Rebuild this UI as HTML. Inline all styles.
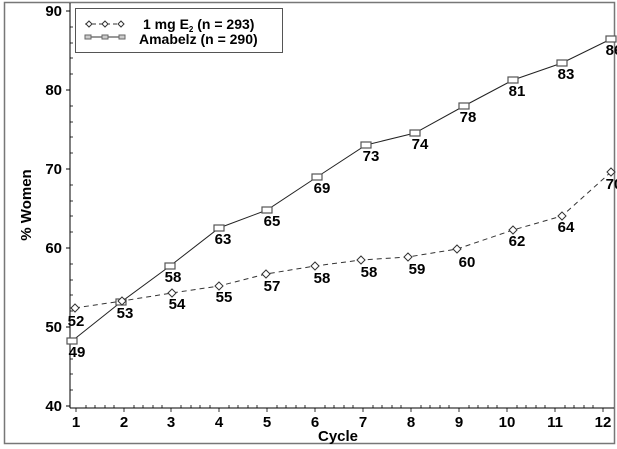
<!DOCTYPE html>
<html><head><style>
html,body{margin:0;padding:0;background:#fff;}
svg{display:block;font-family:"Liberation Sans",Arial,sans-serif;font-weight:bold;}
</style></head><body>
<svg width="617" height="449" viewBox="0 0 617 449" xmlns="http://www.w3.org/2000/svg">
<rect x="4.5" y="2.5" width="610" height="441" fill="none" stroke="#777" stroke-width="1.5"/>
<!-- axes -->
<line x1="70" y1="3" x2="70" y2="408" stroke="#000"/>
<line x1="70" y1="408" x2="614" y2="408" stroke="#000"/>
<g stroke="#000" stroke-width="1">
<line x1="66" y1="11" x2="70" y2="11"/><line x1="66" y1="90" x2="70" y2="90"/><line x1="66" y1="169" x2="70" y2="169"/><line x1="66" y1="248" x2="70" y2="248"/><line x1="66" y1="327" x2="70" y2="327"/><line x1="66" y1="406" x2="70" y2="406"/>
</g>
<g stroke="#000" stroke-width="0.8">
<line x1="70" y1="27" x2="73" y2="27"/><line x1="70" y1="43" x2="73" y2="43"/><line x1="70" y1="58" x2="73" y2="58"/><line x1="70" y1="74" x2="73" y2="74"/>
<line x1="70" y1="106" x2="73" y2="106"/><line x1="70" y1="122" x2="73" y2="122"/><line x1="70" y1="137" x2="73" y2="137"/><line x1="70" y1="153" x2="73" y2="153"/>
<line x1="70" y1="185" x2="73" y2="185"/><line x1="70" y1="201" x2="73" y2="201"/><line x1="70" y1="216" x2="73" y2="216"/><line x1="70" y1="232" x2="73" y2="232"/>
<line x1="70" y1="264" x2="73" y2="264"/><line x1="70" y1="280" x2="73" y2="280"/><line x1="70" y1="295" x2="73" y2="295"/><line x1="70" y1="311" x2="73" y2="311"/>
<line x1="70" y1="343" x2="73" y2="343"/><line x1="70" y1="359" x2="73" y2="359"/><line x1="70" y1="374" x2="73" y2="374"/><line x1="70" y1="390" x2="73" y2="390"/>
</g>
<g id="xt" stroke="#000" stroke-width="0.8"></g>
<g font-size="15" text-anchor="end">
<text x="62" y="16">90</text><text x="62" y="95">80</text><text x="62" y="174">70</text><text x="62" y="253">60</text><text x="62" y="332">50</text><text x="62" y="411">40</text>
</g>
<g font-size="15" text-anchor="middle">
<text x="76" y="427">1</text><text x="124" y="427">2</text><text x="171" y="427">3</text><text x="219" y="427">4</text><text x="267" y="427">5</text><text x="315" y="427">6</text><text x="363" y="427">7</text><text x="411" y="427">8</text><text x="459" y="427">9</text><text x="507" y="427">10</text><text x="555" y="427">11</text><text x="603" y="427">12</text>
</g>
<text x="338" y="441" font-size="15" text-anchor="middle">Cycle</text>
<text transform="translate(31,205) rotate(-90)" font-size="15" text-anchor="middle">% Women</text>
<!-- tick marks x -->
<g stroke="#000" stroke-width="0.8">
<line x1="76" y1="408" x2="76" y2="412"/><line x1="124" y1="408" x2="124" y2="412"/><line x1="171" y1="408" x2="171" y2="412"/><line x1="219" y1="408" x2="219" y2="412"/><line x1="267" y1="408" x2="267" y2="412"/><line x1="315" y1="408" x2="315" y2="412"/><line x1="363" y1="408" x2="363" y2="412"/><line x1="411" y1="408" x2="411" y2="412"/><line x1="459" y1="408" x2="459" y2="412"/><line x1="507" y1="408" x2="507" y2="412"/><line x1="555" y1="408" x2="555" y2="412"/><line x1="603" y1="408" x2="603" y2="412"/>
<path d="M86 408v-3M95 408v-3M105 408v-3M114 408v-3M134 408v-3M143 408v-3M153 408v-3M162 408v-3M181 408v-3M191 408v-3M200 408v-3M210 408v-3M229 408v-3M238 408v-3M248 408v-3M257 408v-3M277 408v-3M286 408v-3M296 408v-3M305 408v-3M325 408v-3M334 408v-3M344 408v-3M353 408v-3M373 408v-3M382 408v-3M392 408v-3M401 408v-3M421 408v-3M430 408v-3M440 408v-3M449 408v-3M469 408v-3M478 408v-3M488 408v-3M497 408v-3M517 408v-3M526 408v-3M536 408v-3M545 408v-3M565 408v-3M574 408v-3M584 408v-3M593 408v-3"/>
</g>
<!-- series -->
<polyline fill="none" stroke="#222" stroke-width="1" points="72,341 121,302 170,266 219,228 267,210 317,177 366,145 415,133 464,106 513,80 562,63 611,39"/>
<polyline fill="none" stroke="#333" stroke-width="1" stroke-dasharray="5,4" points="75,308 122,301 172,293 219,286 266,274 315,266 361,260 408,257 457,249 513,230 562,216 611,172"/>
<g fill="#fff" stroke="#555" stroke-width="1.2">
<rect x="67" y="338" width="10" height="6"/><rect x="116" y="299" width="10" height="6"/><rect x="165" y="263" width="10" height="6"/><rect x="214" y="225" width="10" height="6"/><rect x="262" y="207" width="10" height="6"/><rect x="312" y="174" width="10" height="6"/><rect x="361" y="142" width="10" height="6"/><rect x="410" y="130" width="10" height="6"/><rect x="459" y="103" width="10" height="6"/><rect x="508" y="77" width="10" height="6"/><rect x="557" y="60" width="10" height="6"/><rect x="606" y="36" width="10" height="6"/>
</g>
<g fill="#fff" stroke="#333" stroke-width="1">
<path d="M75 304l4 4-4 4-4-4z"/><path d="M122 297l4 4-4 4-4-4z"/><path d="M172 289l4 4-4 4-4-4z"/><path d="M219 282l4 4-4 4-4-4z"/><path d="M266 270l4 4-4 4-4-4z"/><path d="M315 262l4 4-4 4-4-4z"/><path d="M361 256l4 4-4 4-4-4z"/><path d="M408 253l4 4-4 4-4-4z"/><path d="M457 245l4 4-4 4-4-4z"/><path d="M513 226l4 4-4 4-4-4z"/><path d="M562 212l4 4-4 4-4-4z"/><path d="M611 168l4 4-4 4-4-4z"/>
</g>
<g font-size="15" text-anchor="middle">
<text x="77" y="357">49</text><text x="125" y="318">53</text><text x="173" y="282">58</text><text x="223" y="244">63</text><text x="272" y="226">65</text><text x="322" y="193">69</text><text x="371" y="161">73</text><text x="420" y="149">74</text><text x="468" y="122">78</text><text x="517" y="96">81</text><text x="566" y="79">83</text><text x="614" y="55">86</text>
<text x="76" y="326">52</text><text x="177" y="309">54</text><text x="224" y="302">55</text><text x="272" y="291">57</text><text x="322" y="283">58</text><text x="369" y="277">58</text><text x="417" y="274">59</text><text x="467" y="267">60</text><text x="517" y="246">62</text><text x="566" y="232">64</text><text x="614" y="189">70</text>
</g>
<!-- legend -->
<rect x="75.5" y="8.5" width="207" height="44" fill="#fff" stroke="#555" stroke-width="1"/>
<line x1="85" y1="24" x2="125" y2="24" stroke="#333" stroke-dasharray="4,3"/>
<g fill="#fff" stroke="#333"><path d="M89 21l3 3-3 3-3-3z"/><path d="M105 21l3 3-3 3-3-3z"/><path d="M121 21l3 3-3 3-3-3z"/></g>
<line x1="85" y1="37" x2="125" y2="37" stroke="#333"/>
<g fill="#ccc" stroke="#666"><rect x="85" y="35" width="6" height="4"/><rect x="102" y="35" width="6" height="4"/><rect x="119" y="35" width="6" height="4"/></g>
<text x="143" y="29" font-size="14">1 mg E<tspan font-size="8" dy="3">2</tspan><tspan dy="-3"> (n = 293)</tspan></text>
<text x="139" y="44" font-size="14">Amabelz (n = 290)</text>
</svg>
</body></html>
